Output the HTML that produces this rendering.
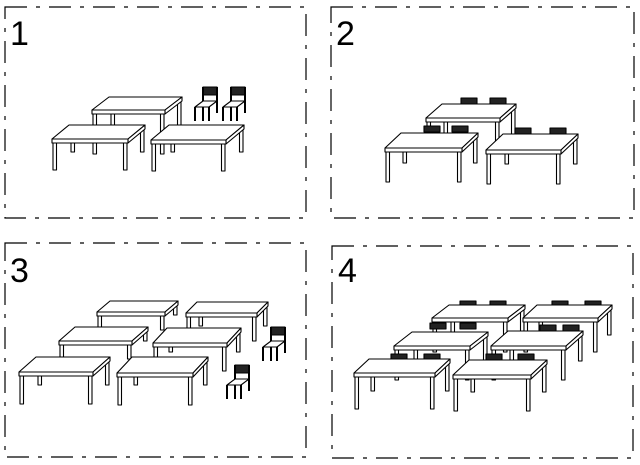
<!DOCTYPE html>
<html><head><meta charset="utf-8"><style>
html,body{margin:0;padding:0;background:#fff;width:640px;height:465px;overflow:hidden}
svg{display:block}
text{font-family:"Liberation Sans",sans-serif;font-weight:300;fill:#000}
</style></head><body>
<svg id="s" width="640" height="465" viewBox="0 0 640 465" xmlns="http://www.w3.org/2000/svg">
<g fill="none" stroke="#000" stroke-width="1.2" stroke-dasharray="22,9,4,9">
<rect x="5" y="7" width="301" height="211"/>
<rect x="331" y="7" width="303" height="211"/>
<rect x="5" y="243" width="301" height="214"/>
<rect x="332" y="246" width="301" height="212"/>
</g>
<text x="10" y="45" font-size="34">1</text>
<text x="336" y="45" font-size="34">2</text>
<text x="10" y="282" font-size="34">3</text>
<text x="338" y="282" font-size="34">4</text>
<g id="d" stroke="#000" stroke-width="1.1" stroke-linejoin="round"></g>
</svg>
<script>
var g=document.getElementById('d'),out='';
function table(x,y,w,dx,dy,h){
 var t=4,L=3.5;
 // back legs
 out+='<rect x="'+(x+dx+2)+'" y="'+(y-dy+t)+'" width="'+L+'" height="'+(h-4)+'" fill="#fff"/>';
 out+='<rect x="'+(x+w+dx-L-1)+'" y="'+(y-dy+t)+'" width="'+L+'" height="'+(h-4)+'" fill="#fff"/>';
 // top
 out+='<polygon points="'+x+','+y+' '+(x+w)+','+y+' '+(x+w+dx)+','+(y-dy)+' '+(x+dx)+','+(y-dy)+'" fill="#fff"/>';
 out+='<polygon points="'+(x+w)+','+y+' '+(x+w+dx)+','+(y-dy)+' '+(x+w+dx)+','+(y-dy+t)+' '+(x+w)+','+(y+t)+'" fill="#fff"/>';
 out+='<rect x="'+x+'" y="'+y+'" width="'+w+'" height="'+t+'" fill="#fff"/>';
 // front legs
 out+='<rect x="'+(x+1)+'" y="'+(y+t)+'" width="'+L+'" height="'+(h)+'" fill="#fff"/>';
 out+='<rect x="'+(x+w-L-1)+'" y="'+(y+t)+'" width="'+L+'" height="'+(h)+'" fill="#fff"/>';
}
function chair(x,y,s){
 s=s||1;
 out+='<rect x="'+(x+8*s)+'" y="'+y+'" width="'+(14*s)+'" height="'+(8*s)+'" fill="#222"/>';
 out+='<line x1="'+(x+8*s)+'" y1="'+y+'" x2="'+(x+8*s)+'" y2="'+(y+34*s)+'" stroke-width="2"/>';
 out+='<line x1="'+(x+22*s)+'" y1="'+y+'" x2="'+(x+22*s)+'" y2="'+(y+26*s)+'" stroke-width="2"/>';
 out+='<polygon points="'+x+','+(y+20*s)+' '+(x+14*s)+','+(y+20*s)+' '+(x+22*s)+','+(y+14*s)+' '+(x+8*s)+','+(y+14*s)+'" fill="#fff"/>';
 out+='<line x1="'+x+'" y1="'+(y+20*s)+'" x2="'+x+'" y2="'+(y+34*s)+'" stroke-width="2"/>';
 out+='<line x1="'+(x+14*s)+'" y1="'+(y+20*s)+'" x2="'+(x+14*s)+'" y2="'+(y+34*s)+'" stroke-width="2"/>';
}
function cb(x,y){out+='<rect x="'+x+'" y="'+y+'" width="16" height="6" fill="#222"/>';}
// panel 1
table(92,110,73,17,13,40);
chair(195,87);chair(223,87);
table(52,139,76,17,14,27);
table(151,140,75,18,15,27);
// panel 2
cb(461,98);cb(490,98);
table(426,118,74,16,14,30);
cb(424,126);cb(452,126);cb(515,128);cb(550,128);
table(385,148,77,16,15,30);
table(486,150,75,17,16,30);
// panel 3
table(97,312,68,13,11,14);
table(186,313,71,11,11,24);
table(59,341,73,16,14,14);
table(153,343,74,14,15,24);
table(19,372,74,17,15,28);
table(117,373,76,15,16,28);
chair(263,327);chair(227,365);
// panel 4
cb(460,301);cb(490,301);cb(552,301);cb(585,301);
table(432,318,76,17,13,30);
table(523,318,75,14,13,30);
cb(430,323);cb(460,323);cb(540,325);cb(563,325);
table(394,346,76,18,14,30);
table(491,346,75,17,15,30);
cb(391,354);cb(424,354);cb(486,354);cb(518,354);
table(354,373,81,15,14,32);
table(453,375,78,16,15,32);
g.innerHTML=out;
</script>
</body></html>
